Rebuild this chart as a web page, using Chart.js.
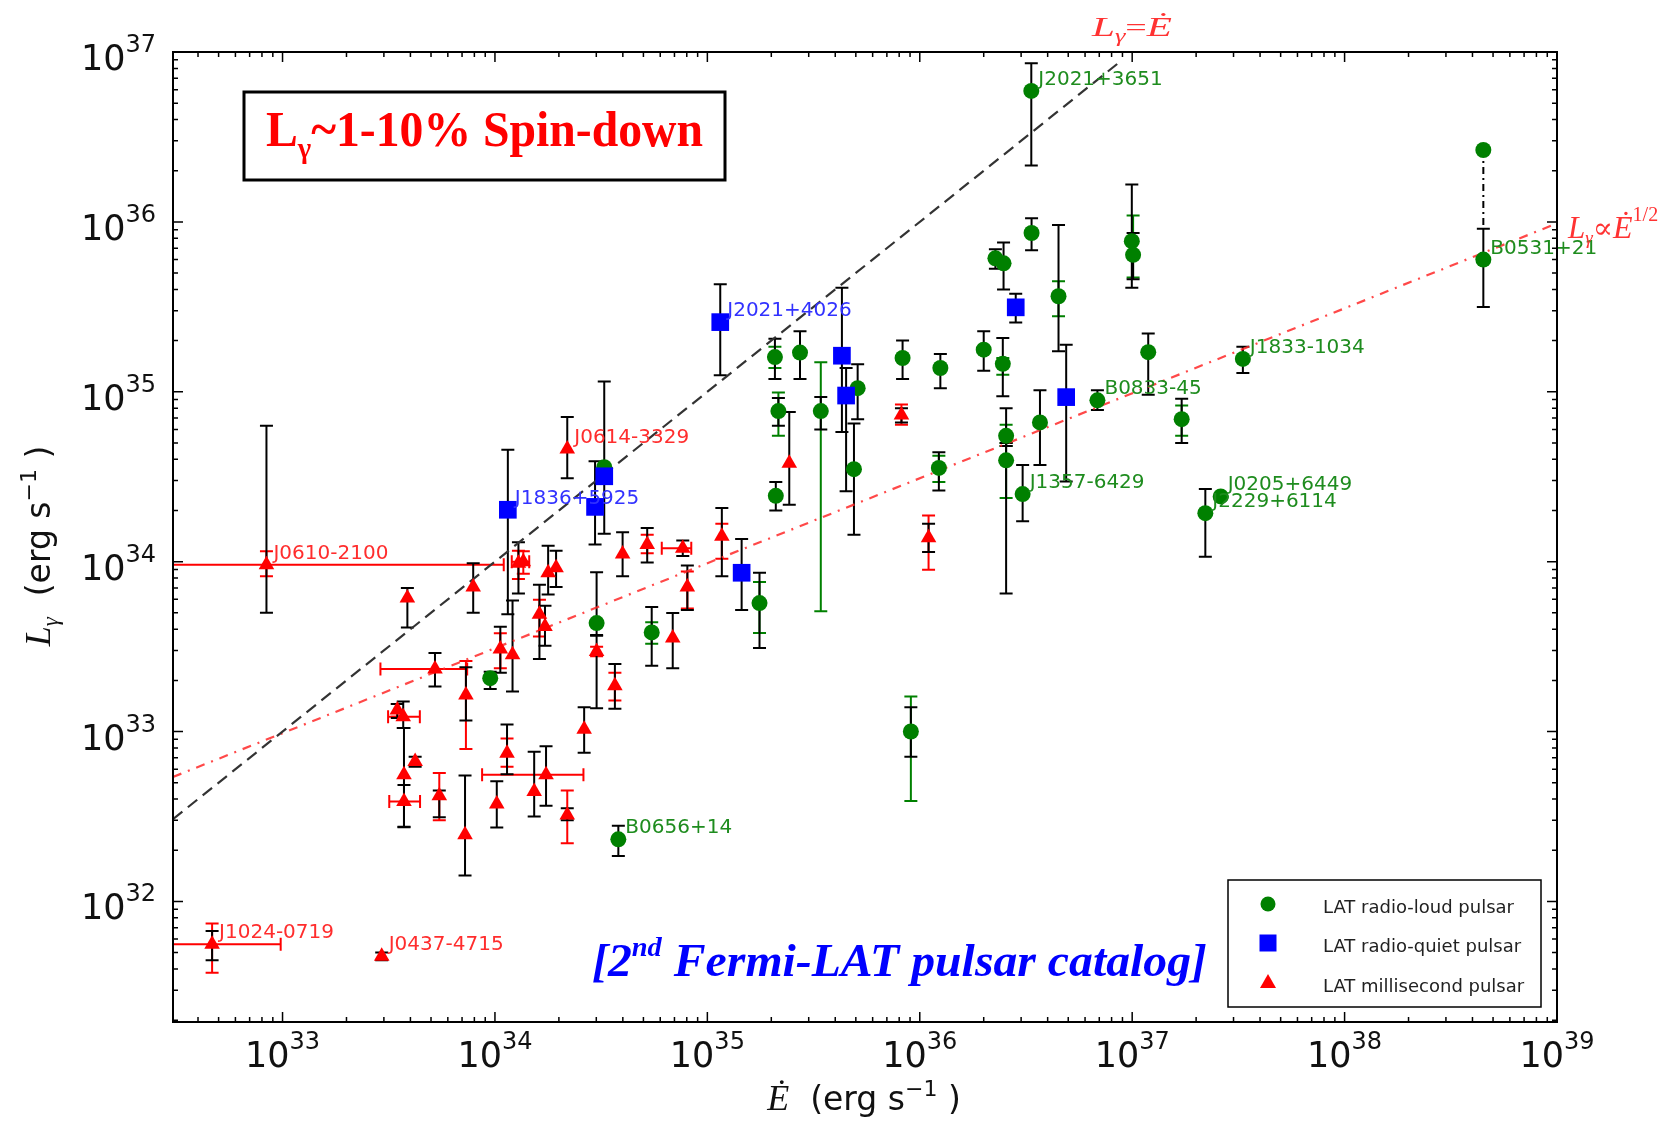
<!DOCTYPE html>
<html>
<head>
<meta charset="utf-8">
<title>Gamma-ray luminosity vs spin-down power</title>
<script src="https://cdn.jsdelivr.net/npm/chart.js@4.4.1/dist/chart.umd.min.js"></script>
<style>
  html, body { margin: 0; padding: 0; background: #fff; }
  canvas { display: block; }
</style>
</head>
<body>
<canvas id="pulsarChart" width="1679" height="1122"></canvas>
<script>
// axis ranges and decade labels
const edotRange = [3.05e32, 1e39];
const lumRange = [1.95e31, 1e37];
const xTickExponents = [33, 34, 35, 36, 37, 38, 39];
const yTickExponents = [32, 33, 34, 35, 36, 37];

// LAT radio-loud pulsars (black error bar + optional green one)
const loudEdot = [3.35e36, 4.5e38, 4.5e38, 2.08e35, 2.73e35, 5.1e35, 4.9e35, 2.16e35, 2.1e35, 3.42e35,
  8.3e35, 1.25e36, 1.23e36, 2.0e36, 2.46e36, 2.27e36, 2.48e36, 2.55e36, 2.55e36, 3.05e36,
  3.68e36, 3.36e36, 4.5e36, 6.86e36, 9.96e36, 1.01e37, 1.19e37, 1.71e37, 3.32e37, 2.21e37,
  2.61e37, 9.08e35, 1.76e35, 3.01e34, 5.47e34, 9.5e33, 3.81e34, 3.27e34];
const loudLum = [5.9e36, 6.0e35, 2.65e36, 1.6e35, 1.7e35, 1.05e35, 3.5e34, 7.7e34, 2.44e34, 7.7e34,
  1.58e35, 1.38e35, 3.56e34, 1.77e35, 1.46e35, 6.1e35, 5.7e35, 5.5e34, 3.95e34, 2.5e34,
  6.6e34, 8.6e35, 3.65e35, 8.9e34, 7.7e35, 6.4e35, 1.71e35, 6.9e34, 1.56e35, 1.93e34,
  2.42e34, 1.0e33, 5.7e33, 4.35e33, 3.83e33, 2.06e33, 2.32e32, 3.6e34];
const loudLo = [2.15e36, 3.15e35, null, 1.19e35, 1.19e35, 6.9e34, 1.44e34, 6.3e34, 2.0e34, 6.0e34,
  1.19e35, 1.05e35, 2.62e34, 1.33e35, 9.4e34, 5.3e35, 4.0e35, 4.8e34, 6.5e33, 1.73e34,
  3.7e34, 6.8e35, 1.73e35, 7.8e34, 4.1e35, 4.6e35, 9.6e34, 5.0e34, 1.29e35, 1.07e34,
  null, 7.1e32, 3.1e33, 3.7e33, 2.44e33, 1.78e33, 1.85e32, null];
const loudHi = [8.6e36, 9.1e35, null, 2.05e35, 2.27e35, 1.45e35, 6.5e34, 9.2e34, 2.94e34, 9.3e34,
  2.0e35, 1.67e35, 4.4e34, 2.27e35, 2.07e35, 6.9e35, 7.55e35, 8.0e34, 5.0e34, 3.7e34,
  1.02e35, 1.05e36, 9.6e35, 1.02e35, 1.66e36, 8.6e35, 2.2e35, 9.1e34, 1.84e35, 2.68e34,
  null, 1.39e33, 8.6e33, 8.65e33, 5.4e33, 2.25e33, 2.79e32, null];
const loudGreenLo = [null, null, null, 1.38e35, null, null, null, 5.5e34, null, 5.1e33,
  null, null, 2.94e34, null, 1.26e35, null, null, 4.8e34, 2.37e34, null,
  null, null, 2.78e35, null, null, 4.7e35, null, 5.5e34, null, null,
  null, 3.9e32, 3.8e33, null, 3.29e33, null, null, null];
const loudGreenHi = [null, null, null, 1.84e35, null, null, null, 9.9e34, null, 1.49e35,
  null, null, 4.2e34, null, 1.58e35, null, null, 6.4e34, 5.0e34, null,
  null, null, 4.47e35, null, null, 1.09e36, null, 8.3e34, null, null,
  null, 1.61e33, 7.6e33, null, 4.39e33, null, null, null];

// LAT radio-quiet pulsars
const quietEdot = [1.15e35, 4.3e35, 4.5e35, 2.83e36, 4.89e36, 1.15e34, 3.27e34, 2.96e34, 1.45e35];
const quietLum = [2.57e35, 1.63e35, 9.5e34, 3.14e35, 9.3e34, 2.02e34, 3.18e34, 2.1e34, 8.6e33];
const quietLo = [1.25e35, 5.8e34, 2.6e34, 2.56e35, 2.96e34, 4.9e33, 1.46e34, 1.26e34, 5.2e33];
const quietHi = [4.3e35, 4.1e35, 1.38e35, 3.77e35, 1.89e35, 4.56e34, 1.15e35, 3.9e34, 1.36e34];

// LAT millisecond pulsars (black + red error bars, some with Edot error)
const mspEdot = [8.4e32, 4.66e32, 2.93e33, 2.19e34, 1.29e34, 1.36e34, 7.9e33, 3.87e33, 1.78e34, 1.94e34,
  1.62e34, 1.72e34, 1.06e34, 1.21e34, 5.22e33, 7.3e33, 3.01e34, 3.67e34, 6.87e34, 3.99e34,
  5.21e34, 7.66e34, 8.05e34, 1.17e35, 8.2e35, 2.43e35, 1.1e36, 3.47e33, 3.7e33, 3.73e33,
  4.21e33, 3.73e33, 5.47e33, 7.23e33, 1.02e34, 1.14e34, 1.53e34, 1.74e34, 2.19e34, 2.63e34];
const mspLum = [9.6e33, 5.6e31, 4.75e31, 4.6e34, 9.8e33, 1.0e34, 7.1e33, 6.1e33, 8.6e33, 9.2e33,
  4.9e33, 4.15e33, 3.06e33, 2.83e33, 2.33e33, 1.64e33, 2.96e33, 1.86e33, 3.55e33, 1.11e34,
  1.26e34, 1.2e34, 7.1e33, 1.41e34, 7.3e34, 3.8e34, 1.38e34, 1.34e33, 1.22e33, 5.56e32,
  6.65e32, 3.87e32, 4.18e32, 2.47e32, 3.75e32, 7.46e32, 4.43e32, 5.56e32, 3.23e32, 1.03e33];
const mspLo = [5.0e33, 4.5e31, 4.5e31, 3.1e34, 6.5e33, null, 5.0e33, 4.1e33, 6.4e33, 7.1e33,
  2.67e33, 3.2e33, 2.22e33, 1.72e33, 1.84e33, 1.16e33, 1.37e33, 1.36e33, 2.36e33, 8.2e33,
  9.9e33, 1.08e34, 5.2e33, 8.2e33, 6.6e34, 2.16e34, 1.14e34, 1.2e33, 1.05e33, 2.75e32,
  6.2e32, 2.73e32, 3.13e32, 1.42e32, 2.72e32, 5.6e32, 3.16e32, 3.66e32, 3.0e32, 7.5e32];
const mspHi = [6.3e34, 6.7e31, 5.0e31, 7.1e34, 1.3e34, null, 9.8e33, 7.0e33, 1.24e34, 1.16e34,
  7.3e33, 5.5e33, 4.14e33, 5.9e33, 2.9e33, 2.39e33, 3.66e33, 2.5e33, 4.98e33, 1.49e34,
  1.58e34, 1.33e34, 9.5e33, 2.07e34, 8.0e34, 7.6e34, 1.67e34, 1.45e33, 1.5e33, 1.05e33,
  7.1e32, 4.85e32, 4.5e32, 5.5e32, 5.1e32, 1.1e33, 7.6e32, 8.2e32, 3.54e32, 1.39e33];
const mspRedLo = [8.2e33, 3.8e31, null, null, 7.9e33, 8.5e33, null, null, null, null,
  3.63e33, null, 2.36e33, null, null, 7.9e32, 2.77e33, 1.52e33, null, null,
  1.12e34, null, 5.3e33, 1.04e34, 6.4e34, null, 8.95e33, 1.22e33, null, null,
  null, null, 3.0e32, null, null, 6.2e32, null, null, 2.2e32, null];
const mspRedHi = [1.15e34, 7.4e31, null, null, 1.16e34, 1.15e34, null, null, null, null,
  5.97e33, null, 3.79e33, null, null, 2.6e33, 3.16e33, 2.22e33, null, null,
  1.44e34, null, 8.75e33, 1.67e34, 8.4e34, null, 1.87e34, 1.45e33, null, null,
  null, null, 5.7e32, null, null, 9.1e32, null, null, 4.5e32, null];
const mspEdotLo = [1e32, 2.9e32, null, null, null, 1.2e34, null, null, null, null,
  null, null, null, null, 2.89e33, null, null, null, null, null,
  null, 6.1e34, null, null, null, null, null, null, 3.14e33, null,
  null, 3.18e33, null, null, null, null, null, 8.7e33, null, null];
const mspEdotHi = [1.1e34, 9.8e32, null, null, null, 1.45e34, null, null, null, null,
  null, null, null, null, 7.4e33, null, null, null, null, null,
  null, 8.4e34, null, null, null, null, null, null, 4.43e33, null,
  null, 4.44e33, null, null, null, null, null, 2.61e34, null, null];

// reference lines and the Crab link
const eqLineEdot = [3.05e32, 9e36];
const eqLineLum = [3.05e32, 9e36];
const sqrtLineEdot = [3.05e32, 1e39];
const sqrtLineLum = [5.4e32, 9.8e35];
const crabLinkEdot = [4.5e38, 4.5e38];
const crabLinkLum = [2.65e36, 9.1e35];

// named pulsars
const labelNames = ['J2021+3651', 'B0531+21', 'J2021+4026', 'J1833-1034', 'B0833-45', 'J0614-3329', 'J1357-6429',
  'J0205+6449', 'J2229+6114', 'J1836+5925', 'J0610-2100', 'B0656+14', 'J1024-0719', 'J0437-4715'];
const labelEdot = [3.35e36, 4.5e38, 1.15e35, 3.32e37, 6.86e36, 2.19e34, 3.05e36, 2.61e37, 2.21e37, 1.15e34, 8.4e32, 3.81e34, 4.66e32, 2.93e33];
const labelLum = [5.9e36, 6.0e35, 2.57e35, 1.56e35, 8.9e34, 4.6e34, 2.5e34, 2.42e34, 1.93e34, 2.02e34, 9.6e33, 2.32e32, 5.6e31, 4.75e31];
const labelKind = ['loud', 'loud', 'quiet', 'loud', 'loud', 'msp', 'loud', 'loud', 'loud', 'quiet', 'msp', 'loud', 'msp', 'msp'];

const GREEN = '#008000';
const BLUE = '#0000ff';
const RED = '#ff0000';
const labelColors = { loud: 'rgb(30,140,30)', quiet: 'rgb(50,50,255)', msp: 'rgb(255,45,45)' };

const toPoints = (xs, ys) => xs.map((v, i) => ({ x: v, y: ys[i] }));

// draw a row of text pieces, each with its own font and vertical shift
function drawRuns(ctx, runs, x, y, align, fitWidth) {
  let total = 0;
  const widths = runs.map(r => {
    ctx.font = r[1];
    const w = ctx.measureText(r[0]).width;
    total += w;
    return w;
  });
  const sx = fitWidth ? fitWidth / total : 1;
  let start = x;
  if (align === 'center') start = x - total * sx / 2;
  if (align === 'right') start = x - total * sx;
  ctx.save();
  ctx.textAlign = 'left';
  ctx.textBaseline = 'alphabetic';
  ctx.translate(start, y);
  ctx.scale(sx, 1);
  let cx = 0;
  runs.forEach((r, i) => {
    ctx.font = r[1];
    ctx.fillText(r[0], cx, r[2] || 0);
    cx += widths[i];
  });
  ctx.restore();
}

const errorBars = {
  id: 'errorBars',
  beforeDatasetsDraw(chart) {
    const { ctx, chartArea: a, scales: { x, y } } = chart;
    const cap = 6.5;
    ctx.save();
    ctx.beginPath();
    ctx.rect(a.left, a.top, a.right - a.left, a.bottom - a.top);
    ctx.clip();
    ctx.lineWidth = 2;

    function vbar(e, lo, hi, color) {
      if (lo == null || hi == null) return;
      const X = x.getPixelForValue(e), Y1 = y.getPixelForValue(lo), Y2 = y.getPixelForValue(hi);
      ctx.strokeStyle = color;
      ctx.beginPath();
      ctx.moveTo(X, Y1); ctx.lineTo(X, Y2);
      ctx.moveTo(X - cap, Y1); ctx.lineTo(X + cap, Y1);
      ctx.moveTo(X - cap, Y2); ctx.lineTo(X + cap, Y2);
      ctx.stroke();
    }
    function hbar(l, lo, hi, color) {
      if (lo == null || hi == null) return;
      const Y = y.getPixelForValue(l), X1 = x.getPixelForValue(lo), X2 = x.getPixelForValue(hi);
      ctx.strokeStyle = color;
      ctx.beginPath();
      ctx.moveTo(X1, Y); ctx.lineTo(X2, Y);
      ctx.moveTo(X1, Y - cap); ctx.lineTo(X1, Y + cap);
      ctx.moveTo(X2, Y - cap); ctx.lineTo(X2, Y + cap);
      ctx.stroke();
    }

    loudEdot.forEach((e, i) => vbar(e, loudGreenLo[i], loudGreenHi[i], GREEN));
    mspEdot.forEach((e, i) => {
      vbar(e, mspRedLo[i], mspRedHi[i], RED);
      hbar(mspLum[i], mspEdotLo[i], mspEdotHi[i], RED);
    });
    loudEdot.forEach((e, i) => vbar(e, loudLo[i], loudHi[i], '#000'));
    quietEdot.forEach((e, i) => vbar(e, quietLo[i], quietHi[i], '#000'));
    mspEdot.forEach((e, i) => vbar(e, mspLo[i], mspHi[i], '#000'));
    ctx.restore();
  }
};

const frameAndText = {
  id: 'frameAndText',
  afterDatasetsDraw(chart) {
    const { ctx, chartArea: a, scales: { x, y } } = chart;
    ctx.save();

    // point names
    ctx.font = '20px "DejaVu Sans"';
    ctx.textAlign = 'left';
    ctx.textBaseline = 'alphabetic';
    labelNames.forEach((name, i) => {
      ctx.fillStyle = labelColors[labelKind[i]];
      ctx.fillText(name, x.getPixelForValue(labelEdot[i]) + 7, y.getPixelForValue(labelLum[i]) - 6);
    });

    // frame
    ctx.strokeStyle = '#000';
    ctx.lineWidth = 2;
    ctx.strokeRect(a.left, a.top, a.right - a.left, a.bottom - a.top);

    // inward log ticks on all sides
    ctx.lineWidth = 1.5;
    ctx.beginPath();
    for (let d = 32; d <= 39; d++) {
      for (let m = 1; m <= 9; m++) {
        const v = m * Math.pow(10, d);
        if (v < edotRange[0] || v > edotRange[1]) continue;
        const X = x.getPixelForValue(v), len = m === 1 ? 10 : 5;
        ctx.moveTo(X, a.bottom); ctx.lineTo(X, a.bottom - len);
        ctx.moveTo(X, a.top); ctx.lineTo(X, a.top + len);
      }
    }
    for (let d = 31; d <= 37; d++) {
      for (let m = 1; m <= 9; m++) {
        const v = m * Math.pow(10, d);
        if (v < lumRange[0] || v > lumRange[1]) continue;
        const Y = y.getPixelForValue(v), len = m === 1 ? 10 : 5;
        ctx.moveTo(a.left, Y); ctx.lineTo(a.left + len, Y);
        ctx.moveTo(a.right, Y); ctx.lineTo(a.right - len, Y);
      }
    }
    ctx.stroke();

    // tick labels
    ctx.fillStyle = '#111';
    xTickExponents.forEach(p => {
      drawRuns(ctx, [['10', '35px "DejaVu Sans"'], [String(p), '24px "DejaVu Sans"', -18]],
        x.getPixelForValue(Math.pow(10, p)), a.bottom + 45, 'center');
    });
    yTickExponents.forEach(p => {
      drawRuns(ctx, [['10', '35px "DejaVu Sans"'], [String(p), '24px "DejaVu Sans"', -18]],
        a.left - 17, y.getPixelForValue(Math.pow(10, p)) + 18, 'right');
    });

    // axis titles
    drawRuns(ctx, [['Ė', 'italic 36px "Liberation Serif"'], ['  (erg s', '33px "DejaVu Sans"'],
      ['−1', '22px "DejaVu Sans"', -14], [' )', '33px "DejaVu Sans"']], 864, 1110, 'center');
    ctx.save();
    ctx.translate(50, 546);
    ctx.rotate(-Math.PI / 2);
    drawRuns(ctx, [['L', 'italic 36px "Liberation Serif"'], ['γ', 'italic 23px "Liberation Serif"', 8],
      ['  (erg s', '33px "DejaVu Sans"'], ['−1', '22px "DejaVu Sans"', -14], [' )', '33px "DejaVu Sans"']],
      0, 0, 'center');
    ctx.restore();

    // line annotations
    ctx.fillStyle = 'rgb(255,50,50)';
    drawRuns(ctx, [['L', 'italic 28px "Liberation Serif"'], ['γ', 'italic 18px "Liberation Serif"', 6],
      ['=', '26px "Liberation Serif"'], ['Ė', 'italic 28px "Liberation Serif"']], 1092, 36, 'left', 80);
    drawRuns(ctx, [['L', 'italic 31px "Liberation Serif"'], ['γ', 'italic 19px "Liberation Serif"', 6],
      ['∝', '30px "DejaVu Serif"'], ['Ė', 'italic 32px "Liberation Serif"'],
      ['1/2', '20px "Liberation Serif"', -17]], 1568, 238, 'left');

    // spin-down box
    ctx.lineWidth = 3;
    ctx.strokeStyle = '#000';
    ctx.strokeRect(244, 92, 481, 88);
    ctx.fillStyle = RED;
    drawRuns(ctx, [['L', 'bold 50px "Liberation Serif"'], ['γ', 'bold 30px "Liberation Serif"', 12],
      ['~1-10% Spin-down', 'bold 50px "Liberation Serif"']], 266, 146, 'left', 437);

    // catalog note
    ctx.fillStyle = BLUE;
    drawRuns(ctx, [['[2', 'italic bold 47px "Liberation Serif"'], ['nd', 'italic bold 28px "Liberation Serif"', -20],
      [' Fermi-LAT pulsar catalog]', 'italic bold 47px "Liberation Serif"']], 592, 976, 'left', 615);

    // legend
    ctx.lineWidth = 1.5;
    ctx.strokeStyle = '#000';
    ctx.fillStyle = '#fff';
    ctx.fillRect(1228, 880, 313, 127);
    ctx.strokeRect(1228, 880, 313, 127);
    const rows = [
      ['LAT radio-loud pulsar', 'circle', GREEN, 904],
      ['LAT radio-quiet pulsar', 'rect', BLUE, 943],
      ['LAT millisecond pulsar', 'triangle', RED, 983]
    ];
    rows.forEach(r => {
      ctx.fillStyle = r[2];
      ctx.beginPath();
      if (r[1] === 'circle') ctx.arc(1268, r[3], 7.5, 0, Math.PI * 2);
      else if (r[1] === 'rect') ctx.rect(1259.5, r[3] - 8.5, 17, 17);
      else { ctx.moveTo(1268, r[3] - 9); ctx.lineTo(1276, r[3] + 5); ctx.lineTo(1260, r[3] + 5); ctx.closePath(); }
      ctx.fill();
      ctx.fillStyle = '#222';
      ctx.font = '18px "DejaVu Sans"';
      ctx.textAlign = 'left';
      ctx.textBaseline = 'middle';
      ctx.fillText(r[0], 1323, r[3] + 4);
    });
    ctx.restore();
  }
};

const ctx = document.getElementById('pulsarChart').getContext('2d');
new Chart(ctx, {
  type: 'scatter',
  data: {
    datasets: [
      {
        label: 'LAT millisecond pulsar',
        data: toPoints(mspEdot, mspLum),
        pointStyle: 'triangle', pointRadius: 9,
        backgroundColor: RED, borderColor: RED, borderWidth: 0, order: 1
      },
      {
        label: 'LAT radio-quiet pulsar',
        data: toPoints(quietEdot, quietLum),
        pointStyle: 'rect', pointRadius: 12.5,
        backgroundColor: BLUE, borderColor: BLUE, borderWidth: 0, order: 2
      },
      {
        label: 'LAT radio-loud pulsar',
        data: toPoints(loudEdot, loudLum),
        pointStyle: 'circle', pointRadius: 8,
        backgroundColor: GREEN, borderColor: GREEN, borderWidth: 0, order: 3
      },
      {
        label: 'L = Edot',
        data: toPoints(eqLineEdot, eqLineLum),
        showLine: true, pointRadius: 0, borderColor: '#333', borderWidth: 2.2,
        borderDash: [12, 7], order: 4
      },
      {
        label: 'L ~ Edot^1/2',
        data: toPoints(sqrtLineEdot, sqrtLineLum),
        showLine: true, pointRadius: 0, borderColor: 'rgba(255,40,40,0.85)', borderWidth: 2.2,
        borderDash: [9, 7, 2, 7], order: 4
      },
      {
        label: 'Crab link',
        data: toPoints(crabLinkEdot, crabLinkLum),
        showLine: true, pointRadius: 0, borderColor: '#000', borderWidth: 2,
        borderDash: [7, 4, 2, 4], order: 4
      }
    ]
  },
  options: {
    responsive: false,
    animation: false,
    devicePixelRatio: 1,
    events: [],
    layout: { padding: { left: 173, right: 122, top: 52, bottom: 100 } },
    plugins: {
      legend: { display: false },
      tooltip: { enabled: false }
    },
    scales: {
      x: { type: 'logarithmic', min: edotRange[0], max: edotRange[1], display: false },
      y: { type: 'logarithmic', min: lumRange[0], max: lumRange[1], display: false }
    }
  },
  plugins: [errorBars, frameAndText]
});
</script>
</body>
</html>
